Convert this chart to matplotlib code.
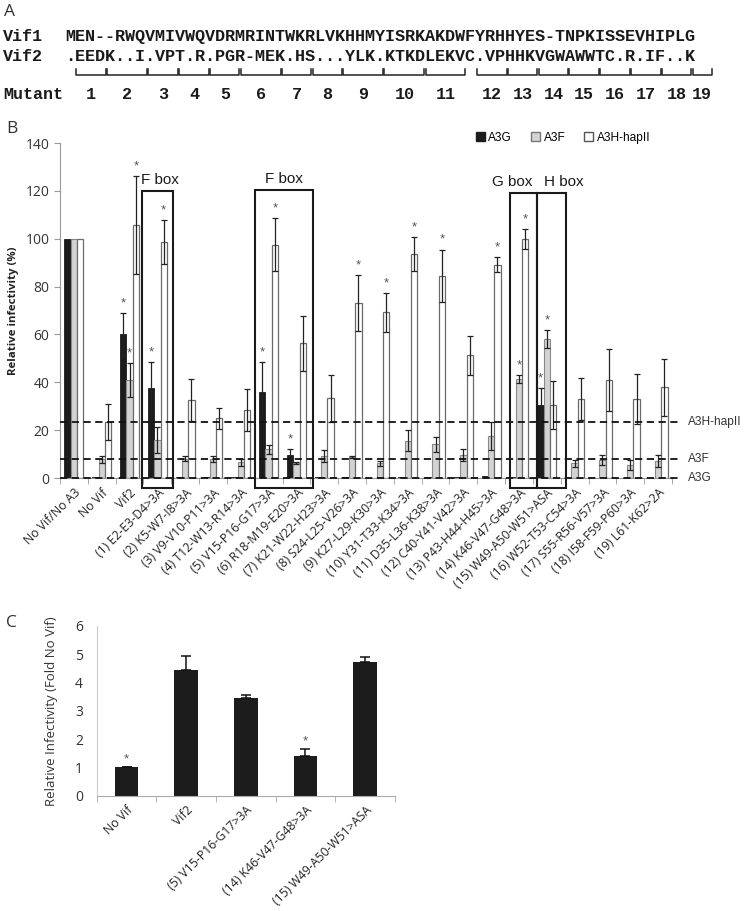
import matplotlib
matplotlib.use('Agg')
import matplotlib.pyplot as plt
import numpy as np
from matplotlib.patches import Rectangle, Patch

plt.rcParams['font.family'] = ['Open Sans', 'DejaVu Sans']

# ---- panel A : alignment ----
seq_vif1 = "MEN--RWQVMIVWQVDRMRINTWKRLVKHHMYISRKAKDWFYRHHYES-TNPKISSEVHIPLG"
seq_vif2 = ".EEDK..I.VPT.R.PGR-MEK.HS...YLK.KTKDLEKVC.VPHHKVGWAWWTC.R.IF..K"
mut_start = [1, 4, 8, 11, 14, 17, 21, 24, 27, 31, 35, 40, 43, 46, 49, 52, 55, 58, 61]
mut_end = [4, 8, 11, 14, 17, 21, 24, 27, 31, 35, 39, 43, 46, 49, 52, 55, 58, 61, 63]

# ---- panel B ----
groups = ["No Vif/No A3", "No Vif", "Vif2",
          "(1) E2-E3-D4>3A", "(2) K5-W7-I8>3A", "(3) V9-V10-P11>3A",
          "(4) T12-W13-R14>3A", "(5) V15-P16-G17>3A", "(6) R18-M19-E20>3A",
          "(7) K21-W22-H23>3A", "(8) S24-L25-V26>3A", "(9) K27-L29-K30>3A",
          "(10) Y31-T33-K34>3A", "(11) D35-L36-K38>3A", "(12) C40-Y41-V42>3A",
          "(13) P43-H44-H45>3A", "(14) K46-V47-G48>3A", "(15) W49-A50-W51>ASA",
          "(16) W52-T53-C54>3A", "(17) S55-R56-V57>3A", "(18) I58-F59-P60>3A",
          "(19) L61-K62>2A"]
a3g = [100, 0.3, 60, 37.5, 0.3, 0.3, 0.3, 36, 9.8, 0.3, 0.4, 0.2, 0.3, 0.5, 0.3, 0.8, 0.3, 30.5, 0.2, 0.2, 0.2, 0.2]
a3g_err = [0, 0, 9, 11, 0, 0, 0, 12.5, 2.5, 0, 0, 0, 0, 0, 0, 0, 0, 7, 0, 0, 0, 0]
a3f = [100, 7.8, 41, 15.8, 8, 7.8, 6.6, 12, 6.4, 9.2, 8.7, 6.2, 15.6, 14.1, 9.6, 17.6, 41.3, 58.2, 6.1, 7.5, 5.4, 7.2]
a3f_err = [0, 1.5, 7, 5.5, 1, 1.3, 1.5, 1.8, 0.4, 2.5, 0.5, 1, 4.5, 3.2, 2.5, 5.7, 1.8, 3.7, 1.3, 2, 2, 2.5]
a3h = [100, 23.4, 105.9, 98.6, 32.6, 25, 28.5, 97.5, 56.4, 33.3, 73.1, 69.2, 93.6, 84.5, 51.2, 89.1, 99.9, 30.5, 33, 41, 33, 37.9]
a3h_err = [0, 7.4, 20.5, 9.3, 8.8, 4.4, 8.8, 11, 11.5, 9.8, 11.8, 8, 7, 11, 8, 3.2, 4, 10, 8.7, 13, 10.3, 12]
star_g = [2, 3, 7, 8, 17]
star_f = [2, 16, 17]
star_h = [2, 3, 7, 10, 11, 12, 13, 15, 16]
ref_vals = [23.6, 7.8, 0.0]
ref_names = ["A3H-hapII", "A3F", "A3G"]
box_names = ["F box", "F box", "G box", "H box"]
box_left = [2.43, 6.5, 15.69, 16.66]
box_right = [3.58, 8.58, 16.66, 17.68]
box_top = [120, 120.5, 119.3, 119.3]
box_label_x = [3.1, 7.55, 15.75, 17.6]

# ---- panel C ----
c_groups = ["No Vif", "Vif2", "(5) V15-P16-G17>3A", "(14) K46-V47-G48>3A", "(15) W49-A50-W51>ASA"]
c_vals = [1.0, 4.43, 3.47, 1.42, 4.72]
c_err = [0.02, 0.49, 0.1, 0.22, 0.17]
c_star = [0, 3]

fig = plt.figure(figsize=(7.5, 9.11), dpi=100)

# overlay in pixel units for panel A and panel letters
ax0 = fig.add_axes([0, 0, 1, 1])
ax0.set_xlim(0, 750)
ax0.set_ylim(911, 0)
ax0.axis('off')

mono = dict(family='Liberation Mono', fontsize=12.1, fontweight='bold', color='#1a1a1a', va='baseline')
ax0.text(3.3, 40.7, "Vif1", **mono)
ax0.text(3.3, 60.7, "Vif2", **mono)
ax0.text(3.3, 99, "Mutant", **mono)
ax0.text(65.5, 40.7, seq_vif1, **mono)
ax0.text(65.5, 60.7, seq_vif2, **mono)
cw = 10.27
for i in range(len(mut_start)):
    xa = 65.5 + mut_start[i] * cw + 0.6
    xb = 65.5 + mut_end[i] * cw - 0.6
    ax0.plot([xa, xa, xb, xb], [69, 75, 75, 69], color='#222', lw=1.1)
    ax0.text((xa + xb) / 2, 99, str(i + 1), ha='center', **mono)

letter = dict(fontsize=12.5, color='#333', va='top', ha='left')
ax0.text(4, 4, "A", **letter)
ax0.text(6, 121, "B", **letter)
ax0.text(6, 615, "C", **letter)

# ---- panel B ----
ax = fig.add_axes([0.08, 0.4753, 0.816, 0.3677])
x = np.arange(len(groups))
w = 0.227
ax.bar(x - w, a3g, w, color='#1c1c1c', edgecolor='#1c1c1c', lw=0.6, zorder=2)
ax.bar(x, a3f, w, color='#d3d3d3', edgecolor='#8a8a8a', lw=0.8, zorder=2)
ax.bar(x + w, a3h, w, color='white', edgecolor='#6a6a6a', lw=0.9, zorder=2)

for off, vals, errs, stars in [(-w, a3g, a3g_err, star_g), (0, a3f, a3f_err, star_f), (w, a3h, a3h_err, star_h)]:
    idx = [i for i in range(len(vals)) if errs[i] > 0]
    ax.errorbar(x[idx] + off, [vals[i] for i in idx], yerr=[errs[i] for i in idx],
                fmt='none', ecolor='#222', elinewidth=0.9, capsize=2.2, capthick=0.9, zorder=3)
    for i in stars:
        ax.text(x[i] + off, vals[i] + errs[i] + 1.5, '*', ha='center', va='bottom',
                fontsize=9.5, color='#555', family='Liberation Sans')

for v, name in zip(ref_vals, ref_names):
    ax.plot([-0.5, 21.86], [v, v], color='#111', lw=1.3, dashes=(4, 2.5), clip_on=False, zorder=4)
    ax.text(22.07, v, name, va='center', ha='left', fontsize=8.6, color='#333', family='Liberation Sans')

for i in range(len(box_names)):
    ax.add_patch(Rectangle((box_left[i], -4), box_right[i] - box_left[i], box_top[i] + 4,
                           fill=False, ec='#1a1a1a', lw=1.5, clip_on=False, zorder=5))
    ax.text(box_label_x[i], box_top[i] + 1.5, box_names[i], ha='center', va='bottom',
            fontsize=11, color='#1a1a1a', family='Liberation Sans')

ax.set_xlim(-0.5, 21.5)
ax.set_ylim(0, 140)
ax.set_yticks(range(0, 141, 20))
ax.set_xticks(x)
ax.set_xticklabels(groups, rotation=45, ha='right', rotation_mode='anchor', fontsize=8.8, color='#222')
ax.set_xticks(np.arange(-0.5, 22, 1), minor=True)
ax.tick_params(axis='x', which='major', length=0, pad=6)
ax.tick_params(axis='x', which='minor', length=4, color='#999')
ax.tick_params(axis='y', length=4, color='#999', labelsize=10, labelcolor='#333')
for s in ['top', 'right']:
    ax.spines[s].set_visible(False)
ax.spines['left'].set_color('#999')
ax.spines['bottom'].set_color('#999')
ax.set_ylabel("Relative infectivity (%)", fontsize=8.2, fontweight='bold', color='#222', labelpad=5)

handles = [Patch(fc='#1c1c1c', ec='#1c1c1c'), Patch(fc='#d3d3d3', ec='#777'), Patch(fc='white', ec='#555')]
ax.legend(handles, ["A3G", "A3F", "A3H-hapII"], ncol=3, frameon=False, loc='center',
          bbox_to_anchor=(0.822, 1.015), handlelength=0.75, handleheight=0.75,
          handletextpad=0.3, columnspacing=1.6, prop={'family': 'Liberation Sans', 'size': 8.6})

# ---- panel C ----
ax2 = fig.add_axes([0.1289, 0.1266, 0.3977, 0.1863])
xc = np.arange(len(c_groups))
ax2.bar(xc, c_vals, 0.4, color='#1c1c1c', zorder=2)
ax2.errorbar(xc, c_vals, yerr=[[0] * len(c_err), c_err], fmt='none', ecolor='#111',
             elinewidth=1.1, capsize=3.5, capthick=1.1, zorder=3)
for i in c_star:
    ax2.text(xc[i], c_vals[i] + c_err[i] + 0.05, '*', ha='center', va='bottom',
             fontsize=9.5, color='#555', family='Liberation Sans')
ax2.set_xlim(-0.5, 4.5)
ax2.set_ylim(0, 6)
ax2.set_yticks(range(0, 7))
ax2.set_xticks(xc)
ax2.set_xticklabels(c_groups, rotation=45, ha='right', rotation_mode='anchor', fontsize=8.8, color='#222')
ax2.set_xticks(np.arange(-0.5, 5, 1), minor=True)
ax2.tick_params(axis='x', which='major', length=0, pad=6)
ax2.tick_params(axis='x', which='minor', length=4, color='#aaa')
ax2.tick_params(axis='y', length=0, labelsize=10, labelcolor='#333', pad=10)
for s in ['top', 'right']:
    ax2.spines[s].set_visible(False)
ax2.spines['left'].set_color('#ccc')
ax2.spines['bottom'].set_color('#aaa')
ax2.set_ylabel("Relative Infectivity (Fold No Vif)", fontsize=9.5, color='#333', labelpad=12)

fig.savefig('out.png', dpi=100)
